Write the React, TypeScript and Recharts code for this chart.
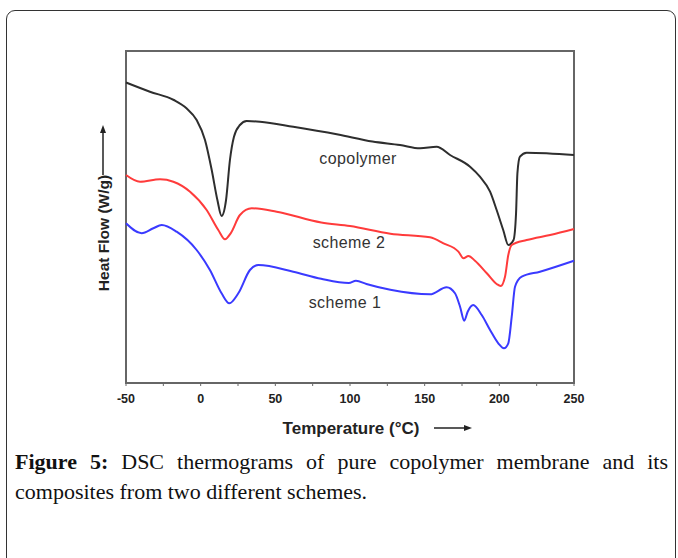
import React from 'react';
import { LineChart, Line, XAxis, YAxis, ReferenceArea, ReferenceDot } from 'recharts';

// temperatures (°C) and heat flow (arbitrary units, endo down)
const copolymerTemp = [-50, -34, -18, -9.5, -2.7, 2.9, 7.4, 11.2, 14, 17, 19.6, 22.3, 26.3, 30.8, 39.7, 62, 92, 115, 133.5, 147, 158, 167, 180.4, 187, 193.8, 198.2, 202.6, 206, 209.5, 211.2, 212.1, 213.8, 218.3, 250];
const copolymerHeat = [30.05, 29.13, 28.3, 27.47, 26.3, 24.3, 21.3, 18.3, 16.7, 18.3, 22.3, 24.63, 25.8, 26.2, 26.13, 25.63, 24.85, 24.15, 23.8, 23.47, 23.63, 22.8, 21.63, 20.63, 19.13, 17.3, 15.3, 13.8, 14.3, 17.0, 20.97, 22.63, 23.03, 22.8];

const scheme2Temp = [-50, -40.6, -27.2, -18.3, -7.1, 4, 11.8, 16.3, 20.1, 26.3, 34.2, 50.9, 80.7, 100, 127, 153.6, 162.6, 172.6, 176, 179.3, 183.7, 191.6, 198.2, 200.9, 203.8, 206, 208.3, 218.3, 234, 250];
const scheme2Heat = [20.8, 20.13, 20.37, 20.13, 19.13, 17.3, 15.3, 14.37, 14.97, 16.8, 17.47, 17.13, 16.05, 15.7, 14.93, 14.57, 13.97, 13.13, 12.47, 12.7, 12.23, 10.97, 9.9, 9.7, 10.63, 12.8, 13.8, 14.3, 14.8, 15.4];

const scheme1Temp = [-50, -39.5, -31.7, -26.1, -16.1, -2.7, 6.2, 14, 19.2, 25.2, 33, 38.6, 62, 80.7, 99.2, 104, 111, 127, 153.6, 164.7, 170.3, 173.7, 176.5, 178.8, 182.5, 188.2, 193.8, 199.3, 203.1, 206, 208.3, 210.5, 215, 227.2, 250];
const scheme1Heat = [15.97, 14.97, 15.47, 15.8, 15.13, 13.3, 11.3, 8.97, 7.97, 8.97, 11.3, 11.8, 11.13, 10.42, 10.0, 10.22, 9.9, 9.32, 8.87, 9.57, 8.97, 7.63, 6.23, 7.13, 7.8, 6.8, 5.3, 3.97, 3.47, 3.97, 6.63, 9.63, 10.63, 11.13, 12.23];

const xTicks = [-50, -25, 0, 25, 50, 75, 100, 125, 150, 175, 200, 225, 250];

const seriesLabels = [
  { name: 'copolymer', t: 105.4, h: 22.5 },
  { name: 'scheme 2', t: 99.3, h: 14.1 },
  { name: 'scheme 1', t: 96.6, h: 8.1 },
];

const zip = (ts: number[], hs: number[]) => ts.map((t, i) => ({ t, h: hs[i] }));

const copolymerData = zip(copolymerTemp, copolymerHeat);
const scheme2Data = zip(scheme2Temp, scheme2Heat);
const scheme1Data = zip(scheme1Temp, scheme1Heat);

const sans = '"Liberation Sans", Arial, sans-serif';

const XTitle = (props: any) => {
  const { x, y, width } = props.viewBox;
  const cx = x + width / 2 + 1;
  const cy = y + 45;
  return (
    <g>
      <text x={cx} y={cy} textAnchor="middle" dominantBaseline="central" fontFamily={sans} fontWeight="bold" fontSize={17} fill="#222">
        Temperature (°C)
      </text>
      <line x1={cx + 83} y1={cy} x2={cx + 115} y2={cy} stroke="#222" strokeWidth={1.5} />
      <polygon points={`${cx + 121},${cy} ${cx + 113},${cy - 3} ${cx + 113},${cy + 3}`} fill="#222" />
    </g>
  );
};

// drawn from the plot frame's box
const YTitle = (props: any) => {
  const { x, y } = props.viewBox;
  const cx = x - 23;
  const cy = y + 182;
  return (
    <g>
      <text x={cx} y={cy} textAnchor="middle" dominantBaseline="central" fontFamily={sans} fontWeight="bold" fontSize={15.5} fill="#222" transform={`rotate(-90 ${cx} ${cy})`}>
        Heat Flow (W/g)
      </text>
      <line x1={cx} y1={y + 124} x2={cx} y2={y + 81} stroke="#222" strokeWidth={1.5} />
      <polygon points={`${cx},${y + 74} ${cx - 3},${y + 82} ${cx + 3},${y + 82}`} fill="#222" />
    </g>
  );
};

export default function App() {
  return (
    <div style={{ position: 'absolute', left: 0, top: 0, width: 678, height: 558, background: '#fff', overflow: 'hidden' }}>
      <div style={{ position: 'absolute', left: 6, top: 10, width: 668, height: 620, border: '1.5px solid #333', borderRadius: 9 }} />
      <div style={{ position: 'absolute', left: 0, top: 0 }}>
        <LineChart width={678} height={450} margin={{ top: 51, right: 104, bottom: 37, left: 126 }}>
          <XAxis
            type="number"
            dataKey="t"
            domain={[-50, 250]}
            ticks={xTicks}
            tickFormatter={(v: number) => (v % 50 === 0 ? String(v) : '')}
            height={30}
            tickSize={3}
            tickMargin={8}
            stroke="#666"
            tick={{ fill: '#222', fontSize: 12.5, fontWeight: 'bold', fontFamily: sans }}
            axisLine={{ stroke: '#666', strokeWidth: 2 }}
            label={{ content: <XTitle /> }}
          />
          <YAxis type="number" domain={[0, 33.2]} width={0} tick={false} axisLine={false} tickLine={false} />
          <ReferenceArea x1={-50} x2={250} y1={0} y2={33.2} fill="none" stroke="#666" strokeWidth={2} label={{ content: <YTitle /> }} />
          <Line data={copolymerData} dataKey="h" type="monotone" stroke="#2e2e2e" strokeWidth={2} dot={false} isAnimationActive={false} />
          <Line data={scheme2Data} dataKey="h" type="monotone" stroke="#ff3b3b" strokeWidth={2} dot={false} isAnimationActive={false} />
          <Line data={scheme1Data} dataKey="h" type="monotone" stroke="#3a3aff" strokeWidth={2} dot={false} isAnimationActive={false} />
          {seriesLabels.map((s) => (
            <ReferenceDot
              key={s.name}
              x={s.t}
              y={s.h}
              r={0}
              fill="none"
              stroke="none"
              label={{ value: s.name, position: 'center', fill: '#333', fontSize: 16, fontFamily: sans, letterSpacing: 0.4 }}
            />
          ))}
        </LineChart>
      </div>
      <div
        style={{
          position: 'absolute',
          left: 15,
          top: 447,
          width: 653,
          fontFamily: '"Liberation Serif", "Times New Roman", serif',
          fontSize: 22,
          lineHeight: '30px',
          color: '#111',
        }}
      >
        <div style={{ textAlign: 'justify', textAlignLast: 'justify', whiteSpace: 'nowrap' }}>
          <b>Figure 5:</b> DSC thermograms of pure copolymer membrane and its
        </div>
        <div>composites from two different schemes.</div>
      </div>
    </div>
  );
}
